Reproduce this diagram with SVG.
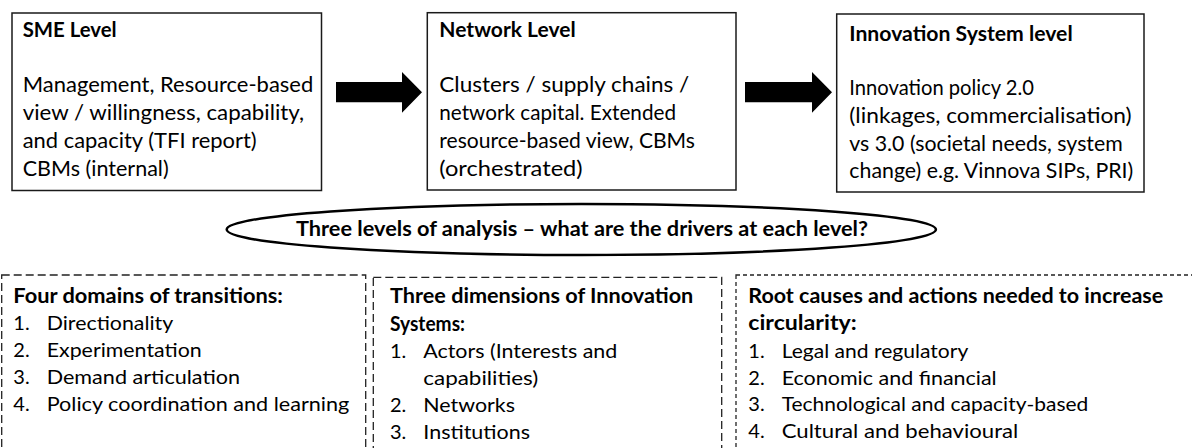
<svg xmlns="http://www.w3.org/2000/svg" width="1192" height="448" viewBox="0 0 1192 448">
<style>
text{font-family:Lato,"Noto Sans","Liberation Sans",sans-serif;fill:#000;}
.t{font-size:20px;font-weight:bold;}
.b{font-size:22px;}
.l{font-size:20px;}
.hb{font-size:21px;font-weight:bold;}
.box{fill:#fff;stroke:#1a1a1a;stroke-width:1.5;}
.dash{fill:none;stroke:#222;stroke-width:1.3;stroke-dasharray:8 4;}
.dash2{fill:none;stroke:#222;stroke-width:1.3;stroke-dasharray:4 3;}
.arrow{fill:#000;stroke:none;}
</style>
<rect width="1192" height="448" fill="#fff"/>
<g id="connectors">
<polygon class="arrow" points="336,82 402,82 402,72 422,92.3 402,112.7 402,102.3 336,102.3"/>
<polygon class="arrow" points="745,82 812,82 812,72 832,92.3 812,112.7 812,102.3 745,102.3"/>
</g>
<g id="sme">
<rect class="box" x="12" y="13" width="309.5" height="177.5"/>
<text class="t" x="22.7" y="37" textLength="94" lengthAdjust="spacingAndGlyphs">SME Level</text>
<text class="b" x="22.7" y="92" textLength="290.6" lengthAdjust="spacingAndGlyphs">Management, Resource-based</text>
<text class="b" x="22.7" y="120" textLength="281.3" lengthAdjust="spacingAndGlyphs">view / willingness, capability,</text>
<text class="b" x="22.7" y="148" textLength="234" lengthAdjust="spacingAndGlyphs">and capacity (TFI report)</text>
<text class="b" x="22.7" y="176" textLength="146" lengthAdjust="spacingAndGlyphs">CBMs (internal)</text>
</g>
<g id="network">
<rect class="box" x="427.3" y="12.7" width="308.7" height="177.3"/>
<text class="t" x="439.3" y="37" textLength="136.4" lengthAdjust="spacingAndGlyphs">Network Level</text>
<text class="b" x="439.3" y="92" textLength="250" lengthAdjust="spacingAndGlyphs">Clusters / supply chains /</text>
<text class="b" x="439.3" y="119.5" textLength="236.7" lengthAdjust="spacingAndGlyphs">network capital. Extended</text>
<text class="b" x="439.3" y="147.7" textLength="255.7" lengthAdjust="spacingAndGlyphs">resource-based view, CBMs</text>
<text class="b" x="439.3" y="175.7" textLength="143.4" lengthAdjust="spacingAndGlyphs">(orchestrated)</text>
</g>
<g id="innovation-system">
<rect class="box" x="836.7" y="14" width="307.3" height="178"/>
<text class="t" x="849.3" y="40.7" textLength="223.4" lengthAdjust="spacingAndGlyphs">Innovation System level</text>
<text class="b" x="849.3" y="95" textLength="184.7" lengthAdjust="spacingAndGlyphs">Innovation policy 2.0</text>
<text class="b" x="849.3" y="123.3" textLength="282.4" lengthAdjust="spacingAndGlyphs">(linkages, commercialisation)</text>
<text class="b" x="849.3" y="150.5" textLength="273.4" lengthAdjust="spacingAndGlyphs">vs 3.0 (societal needs, system</text>
<text class="b" x="849.3" y="178.3" textLength="284" lengthAdjust="spacingAndGlyphs">change) e.g. Vinnova SIPs, PRI)</text>
</g>
<g id="levels-ellipse">
<ellipse cx="581.3" cy="229.5" rx="354.6" ry="25.5" fill="#fff" stroke="#000" stroke-width="2.5"/>
<text class="hb" x="296" y="235.5" textLength="572" lengthAdjust="spacingAndGlyphs">Three levels of analysis – what are the drivers at each level?</text>
</g>
<g id="four-domains">
<rect class="dash" x="1.7" y="275" width="364" height="190"/>
<text class="t" x="13.3" y="303" textLength="269.7" lengthAdjust="spacingAndGlyphs">Four domains of transitions:</text>
<text class="l" x="13.3" y="330">1.</text>
<text class="l" x="46.7" y="330" textLength="126.6" lengthAdjust="spacingAndGlyphs">Directionality</text>
<text class="l" x="13.3" y="357">2.</text>
<text class="l" x="46.7" y="357" textLength="155" lengthAdjust="spacingAndGlyphs">Experimentation</text>
<text class="l" x="13.3" y="384">3.</text>
<text class="l" x="46.7" y="384" textLength="193.3" lengthAdjust="spacingAndGlyphs">Demand articulation</text>
<text class="l" x="13.3" y="411">4.</text>
<text class="l" x="46.7" y="411" textLength="302.6" lengthAdjust="spacingAndGlyphs">Policy coordination and learning</text>
</g>
<g id="three-dimensions">
<rect class="dash" x="373.3" y="277.3" width="348.4" height="190"/>
<text class="t" x="390" y="303" textLength="303.3" lengthAdjust="spacingAndGlyphs">Three dimensions of Innovation</text>
<text class="t" x="390" y="330.5" textLength="75" lengthAdjust="spacingAndGlyphs">Systems:</text>
<text class="l" x="390" y="358.3">1.</text>
<text class="l" x="423.3" y="358.3" textLength="194" lengthAdjust="spacingAndGlyphs">Actors (Interests and</text>
<text class="l" x="423.3" y="385" textLength="115" lengthAdjust="spacingAndGlyphs">capabilities)</text>
<text class="l" x="390" y="411.7">2.</text>
<text class="l" x="423.3" y="411.7" textLength="91.7" lengthAdjust="spacingAndGlyphs">Networks</text>
<text class="l" x="390" y="439">3.</text>
<text class="l" x="423.3" y="439" textLength="106.7" lengthAdjust="spacingAndGlyphs">Institutions</text>
</g>
<g id="root-causes">
<rect class="dash2" x="736" y="275" width="470" height="190"/>
<text class="t" x="748.3" y="303.3" textLength="415" lengthAdjust="spacingAndGlyphs">Root causes and actions needed to increase</text>
<text class="t" x="748.3" y="330" textLength="108.4" lengthAdjust="spacingAndGlyphs">circularity:</text>
<text class="l" x="748.3" y="358">1.</text>
<text class="l" x="781.7" y="358" textLength="186.6" lengthAdjust="spacingAndGlyphs">Legal and regulatory</text>
<text class="l" x="748.3" y="384.7">2.</text>
<text class="l" x="781.7" y="384.7" textLength="215" lengthAdjust="spacingAndGlyphs">Economic and financial</text>
<text class="l" x="748.3" y="411">3.</text>
<text class="l" x="781.7" y="411" textLength="306.6" lengthAdjust="spacingAndGlyphs">Technological and capacity-based</text>
<text class="l" x="748.3" y="438">4.</text>
<text class="l" x="781.7" y="438" textLength="236.6" lengthAdjust="spacingAndGlyphs">Cultural and behavioural</text>
</g>
</svg>
